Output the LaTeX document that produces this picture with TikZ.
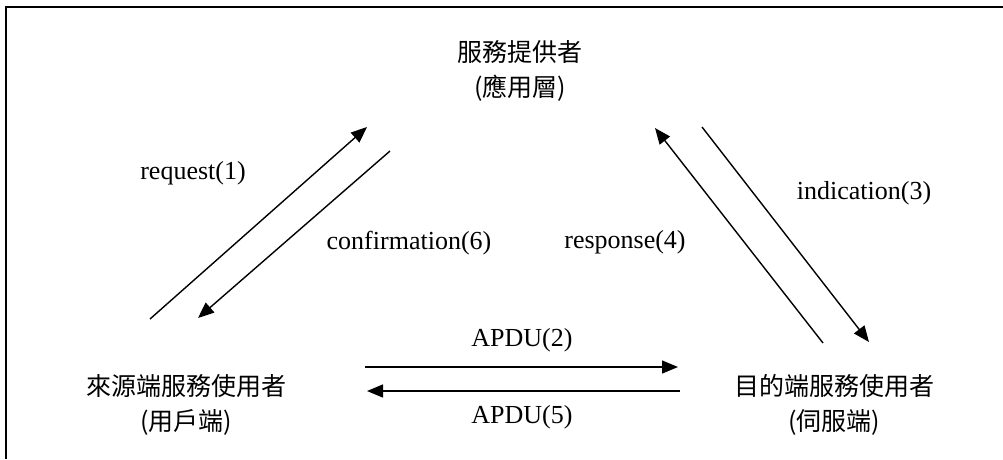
\documentclass[tikz,border=0pt]{standalone}
\usepackage{fontspec}
\setmainfont{Liberation Serif}
\newfontfamily\cjk{Noto Sans CJK TC}
\usetikzlibrary{arrows.meta}
\tikzset{
  cjknode/.style={inner sep=0pt, align=center, font=\cjk\fontsize{25}{35}\selectfont},
  lbl/.style={inner sep=0pt, font=\fontsize{26}{30}\selectfont},
  conn/.style={line width=1.4pt, -{Triangle[length=16pt,width=13pt]}},
  frame/.style={line width=2pt}
}
\begin{document}
\begin{tikzpicture}[x=1pt,y=-1pt]
\useasboundingbox (0,0) rectangle (1003,459);
\draw[frame] (6,459) -- (6,6.5) -- (1003,6.5);
% text nodes
\node[cjknode] (prov) at (520,70.5) {服務提供者\\(應用層)};
\node[cjknode] (src) at (186,404.5) {來源端服務使用者\\(用戶端)};
\node[cjknode] (dst) at (834,404.5) {目的端服務使用者\\(伺服端)};
% labels
\node[lbl] (lreq) at (193,173) {request(1)};
\node[lbl] (lconf) at (409,243) {confirmation(6)};
\node[lbl] (lresp) at (625,242) {response(4)};
\node[lbl] (lind) at (864,193) {indication(3)};
\node[lbl] (la2) at (522,340) {APDU(2)};
\node[lbl] (la5) at (522,417) {APDU(5)};
% connector end points
\coordinate (reqA) at (150,319);
\coordinate (reqB) at (367,127);
\coordinate (confA) at (390,151);
\coordinate (confB) at (198,318);
\coordinate (respA) at (823,343);
\coordinate (respB) at (655,128);
\coordinate (indA) at (702,127);
\coordinate (indB) at (869,342);
\coordinate (a2A) at (365,367);
\coordinate (a2B) at (678,367);
\coordinate (a5A) at (680,391);
\coordinate (a5B) at (367,391);
% connectors
\draw[conn] (reqA) -- (reqB);
\draw[conn] (confA) -- (confB);
\draw[conn] (respA) -- (respB);
\draw[conn] (indA) -- (indB);
\draw[conn] (a2A) -- (a2B);
\draw[conn] (a5A) -- (a5B);
\end{tikzpicture}
\end{document}
